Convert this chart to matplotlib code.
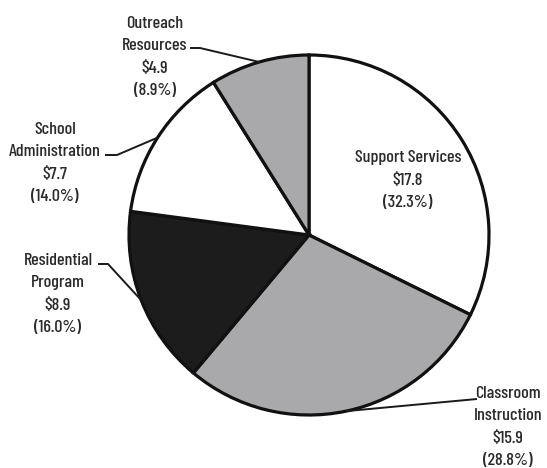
import numpy as np
import matplotlib
matplotlib.use("Agg")
import matplotlib.pyplot as plt

# Budget breakdown (millions of dollars)
categories = ["Support Services", "Classroom\nInstruction", "Residential\nProgram",
              "School\nAdministration", "Outreach\nResources"]
amounts = [17.8, 15.9, 8.9, 7.7, 4.9]
shares = [32.3, 28.8, 16.0, 14.0, 8.9]
colors = ["#ffffff", "#a9a9ab", "#1c1c1c", "#ffffff", "#a9a9ab"]

W, H = 547, 468
fig = plt.figure(figsize=(W / 100, H / 100), dpi=100)
ax = fig.add_axes([0, 0, 1, 1])
ax.set_aspect("equal")

cx, cy, r = 309, 233, 180
wedges, _ = ax.pie(shares, colors=colors, startangle=90, counterclock=False,
                   center=(cx, cy), radius=r, frame=True,
                   wedgeprops=dict(edgecolor="#111111", linewidth=2.3))
ax.set_xlim(0, W)
ax.set_ylim(0, H)
ax.axis("off")

font = dict(family=["Barlow Condensed", "Archivo Narrow", "DejaVu Sans"],
            fontsize=13, fontweight="medium", color="#2a2a2a",
            ha="center", va="center", linespacing=1.6)

# label block centres and leader start points (None = label inside slice)
label_pos = [(408, 288), (508, 41), (58, 174), (55, 305), (155, 411)]
leader_start = [None, [(477, 69)], [(98, 204), (108, 204)],
                [(105, 313), (117, 313)], [(190, 420), (200, 420)]]

for w, cat, amt, pct, pos, lead in zip(wedges, categories, amounts, shares,
                                        label_pos, leader_start):
    txt = f"{cat}\n\\${amt:.1f}\n({pct:.1f}%)"
    ax.text(pos[0], pos[1], txt, **font)
    if lead is not None:
        mid = np.deg2rad((w.theta1 + w.theta2) / 2)
        end = (cx + r * np.cos(mid), cy + r * np.sin(mid))
        pts = lead + [end]
        ax.plot([p[0] for p in pts], [p[1] for p in pts], color="#1a1a1a",
                lw=1.4, solid_capstyle="butt", zorder=5)

fig.savefig("out.png", dpi=100, facecolor="white")
